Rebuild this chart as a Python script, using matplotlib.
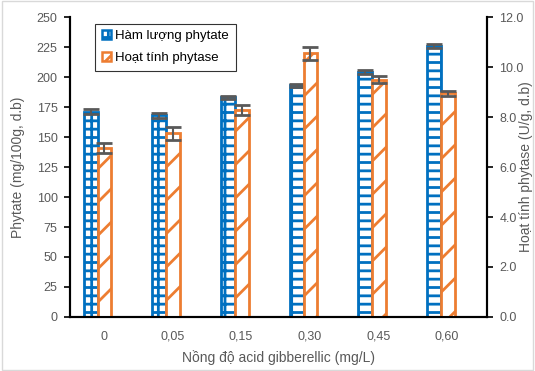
import numpy as np
import matplotlib
matplotlib.use("Agg")
import matplotlib.pyplot as plt
from matplotlib.patches import Rectangle

plt.rcParams['font.family'] = ['Liberation Sans', 'DejaVu Sans']
plt.rcParams['hatch.linewidth'] = 2.0

conc = ["0", "0,05", "0,15", "0,30", "0,45", "0,60"]
phytate = [171, 168, 183, 193, 204, 226]
phytate_err = [2, 2, 1.5, 1.5, 1.5, 1.5]
phytase = [6.75, 7.35, 8.3, 10.55, 9.5, 8.95]
phytase_err = [0.2, 0.25, 0.2, 0.25, 0.15, 0.1]

blue = '#0070C0'
orange = '#ED7D31'
grey = '#595959'

fig = plt.figure(figsize=(5.35, 3.71), dpi=100)
fig.patches.append(Rectangle((0.004, 0.004), 0.992, 0.992, transform=fig.transFigure,
                             fill=False, edgecolor='#D9D9D9', lw=1))
ax = fig.add_axes([0.131, 0.1456, 0.779, 0.8084])
ax2 = ax.twinx()

x = np.arange(len(conc))
w = 0.2

# brick-like fill: twice as many horizontal lines as vertical
ax.bar(x - 0.19, phytate, w, color='white', edgecolor=blue, hatch='+-', lw=2, zorder=2)
ax.errorbar(x - 0.19, phytate, yerr=phytate_err, fmt='none', ecolor=grey,
            elinewidth=1.5, capsize=6, capthick=2, zorder=3)
ax2.bar(x + 0.01, phytase, w, color='white', edgecolor=orange, hatch='/', lw=2, zorder=2)
ax2.errorbar(x + 0.01, phytase, yerr=phytase_err, fmt='none', ecolor=grey,
             elinewidth=1.5, capsize=6, capthick=2, zorder=3)

ax.set_xlim(-0.49, 5.58)
ax.set_ylim(0, 250)
ax.set_yticks(np.arange(0, 251, 25))
ax2.set_ylim(0, 12)
ax2.set_yticks(np.arange(0, 12.1, 2))
ax2.set_yticklabels([f"{v:.1f}" for v in np.arange(0, 12.1, 2)])
ax.set_xticks(x)
ax.set_xticklabels(conc)

for a in (ax, ax2):
    a.spines['top'].set_visible(False)
    for s in a.spines.values():
        s.set_linewidth(1.5)
        s.set_color('black')
    a.tick_params(axis='y', colors='black', labelcolor=grey, labelsize=9,
                  length=4, width=1.2, direction='out', pad=5)
ax.tick_params(axis='x', length=0, labelcolor=grey, labelsize=9, pad=10)

ax.set_ylabel('Phytate (mg/100g, d.b)', color=grey, fontsize=10)
ax2.set_ylabel('Hoạt tính phytase (U/g, d.b)', color=grey, fontsize=10)
ax.set_xlabel('Nồng độ acid gibberellic (mg/L)', color=grey, fontsize=10)
ax.yaxis.set_label_coords(-0.125, 0.5)
ax2.yaxis.set_label_coords(1.095, 0.5)
ax.xaxis.set_label_coords(0.5, -0.137)
ax.xaxis.label.set_va('center')
ax.yaxis.label.set_va('center')
ax2.yaxis.label.set_va('center')

handles = [Rectangle((0, 0), 1, 1, facecolor='white', edgecolor=blue, hatch='+-', lw=1.8),
           Rectangle((0, 0), 1, 1, facecolor='white', edgecolor=orange, hatch='/', lw=1.8)]
leg = ax.legend(handles, ['Hàm lượng phytate', 'Hoạt tính phytase'], loc='upper left',
                bbox_to_anchor=(0.045, 1.0), fontsize=9.5, fancybox=False,
                handlelength=0.7, handleheight=0.7, handletextpad=0.3,
                borderpad=0.5, labelspacing=0.7)
leg.get_frame().set_edgecolor('black')
leg.get_frame().set_linewidth(0.8)
leg.set_zorder(5)

fig.savefig('out.png', dpi=100)
